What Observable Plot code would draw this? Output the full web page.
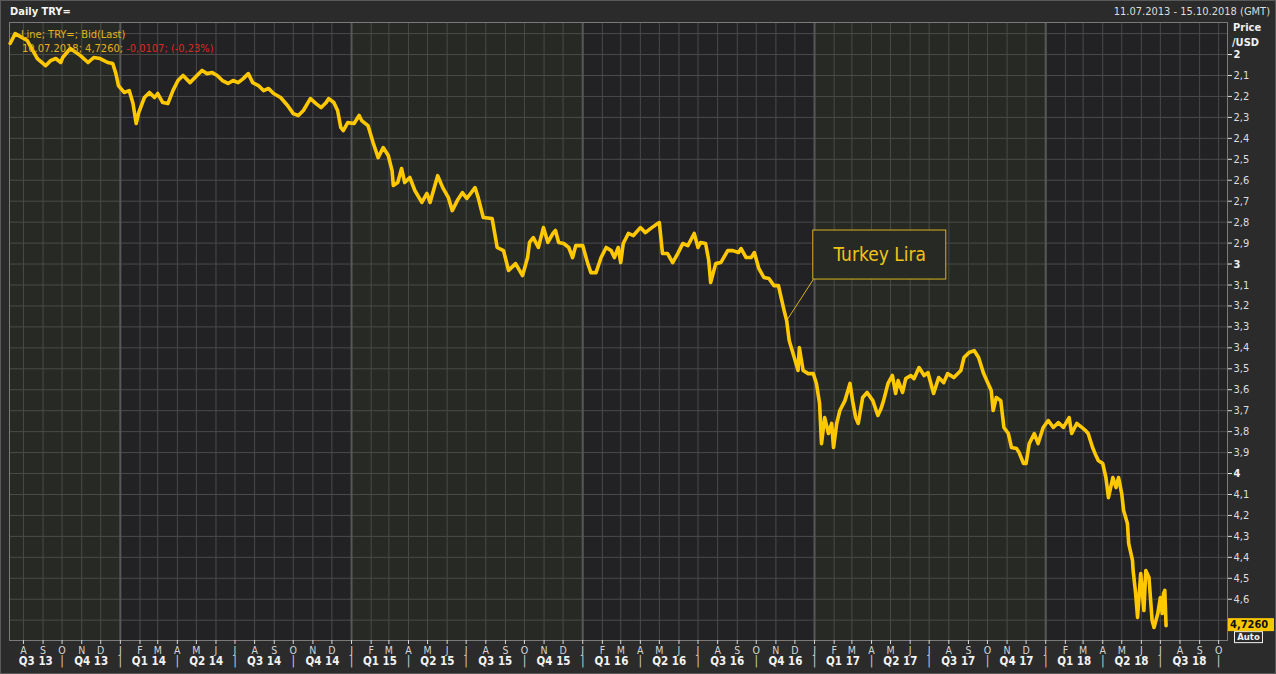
<!DOCTYPE html>
<html>
<head>
<meta charset="utf-8">
<script src="https://cdn.jsdelivr.net/npm/d3@7"></script>
<script src="https://cdn.jsdelivr.net/npm/@observablehq/plot@0.6"></script>
<style>
html,body{margin:0;padding:0;background:#2b2b2b;}
#wrap{position:relative;width:1276px;height:674px;overflow:hidden;background:#2b2b2b;font-family:"DejaVu Sans Condensed","DejaVu Sans",sans-serif;}
#wrap svg{position:absolute;left:0;top:0;}
.t{position:absolute;white-space:nowrap;font-size:11px;line-height:13px;}
.border{position:absolute;left:0;top:0;width:1276px;height:674px;box-sizing:border-box;border:1px solid #5a5a5a;pointer-events:none;}
</style>
</head>
<body>
<div id="wrap">
  <div class="t" style="left:10px;top:5px;font-weight:bold;color:#f4f4f4;">Daily TRY=</div>
  <div class="t" style="right:6px;top:5px;color:#dcdcdc;">11.07.2013 - 15.10.2018 (GMT)</div>
  <div class="t" style="left:1233px;top:21px;font-weight:bold;color:#f0f0f0;">Price</div>
  <div class="t" style="left:1232px;top:36px;font-weight:bold;color:#f0f0f0;">/USD</div>
  <div class="t" style="left:21px;top:28px;color:#e2b31c;">Line; TRY=; Bid(Last)</div>
  <div class="t" style="left:22px;top:42px;color:#e2b31c;">10.07.2018; 4,7260; <span style="color:#dc2a1e;">-0,0107; (-0,23%)</span></div>
  <div class="border"></div>
</div>
<script>
// ---- data (USD/TRY, daily bid) ----
const dates = [
  "2013-07-11","2013-07-19","2013-08-07","2013-08-23","2013-09-05","2013-09-13","2013-09-21","2013-09-29",
  "2013-10-02","2013-10-14","2013-10-30","2013-11-11","2013-11-20","2013-11-30","2013-12-12","2013-12-20",
  "2013-12-25","2013-12-29",
  "2014-01-07","2014-01-15","2014-01-21","2014-01-26","2014-01-30","2014-02-08","2014-02-16","2014-02-24",
  "2014-03-01","2014-03-09","2014-03-17","2014-03-25","2014-04-02","2014-04-10","2014-04-21","2014-05-02",
  "2014-05-10","2014-05-18","2014-05-26","2014-06-03","2014-06-11","2014-06-20","2014-06-28","2014-07-06",
  "2014-07-14","2014-07-22","2014-07-29","2014-08-07","2014-08-15","2014-08-23","2014-08-31","2014-09-11",
  "2014-09-22","2014-10-01","2014-10-09","2014-10-17","2014-10-28","2014-11-06","2014-11-14","2014-11-22",
  "2014-11-26","2014-12-04","2014-12-10","2014-12-15","2014-12-19","2014-12-26",
  "2015-01-05","2015-01-13","2015-01-17","2015-01-27","2015-02-04","2015-02-12","2015-02-20","2015-02-28",
  "2015-03-06","2015-03-08","2015-03-15","2015-03-21","2015-03-26","2015-04-03","2015-04-11","2015-04-22",
  "2015-04-30","2015-05-05","2015-05-17","2015-05-25","2015-06-03","2015-06-09","2015-06-17","2015-06-25",
  "2015-07-02","2015-07-15","2015-07-20","2015-07-28","2015-08-11","2015-08-19","2015-08-29","2015-09-06",
  "2015-09-17","2015-09-28","2015-10-06","2015-10-09","2015-10-15","2015-10-23","2015-10-31","2015-11-07",
  "2015-11-15","2015-11-19","2015-11-24","2015-12-02","2015-12-10","2015-12-16","2015-12-21",
  "2016-01-01","2016-01-09","2016-01-14","2016-01-22","2016-01-30","2016-02-07","2016-02-15","2016-02-20",
  "2016-02-26","2016-03-01","2016-03-05","2016-03-13","2016-03-21","2016-04-01","2016-04-09","2016-04-17",
  "2016-04-28","2016-05-01","2016-05-06","2016-05-14","2016-05-22","2016-05-30","2016-06-07","2016-06-15",
  "2016-06-25","2016-07-01","2016-07-05","2016-07-13","2016-07-18","2016-07-21","2016-07-29","2016-08-06",
  "2016-08-17","2016-08-25","2016-09-03","2016-09-07","2016-09-15","2016-09-23","2016-09-28","2016-10-05",
  "2016-10-13","2016-10-21","2016-10-29","2016-11-05","2016-11-14","2016-11-18","2016-11-22","2016-11-30",
  "2016-12-06","2016-12-08","2016-12-14","2016-12-22","2016-12-30",
  "2017-01-04","2017-01-09","2017-01-12","2017-01-17","2017-01-23","2017-01-28","2017-01-31","2017-02-05",
  "2017-02-10","2017-02-18","2017-02-26","2017-03-02","2017-03-07","2017-03-11","2017-03-18","2017-03-25",
  "2017-04-03","2017-04-11","2017-04-16","2017-04-20","2017-04-27","2017-05-04","2017-05-09","2017-05-13",
  "2017-05-20","2017-05-25","2017-06-02","2017-06-07","2017-06-15","2017-06-23","2017-06-29","2017-07-08",
  "2017-07-16","2017-07-24","2017-07-30","2017-08-09","2017-08-20","2017-08-25","2017-09-02","2017-09-10",
  "2017-09-17","2017-09-25","2017-10-02","2017-10-07","2017-10-10","2017-10-15","2017-10-22","2017-10-27",
  "2017-11-03","2017-11-08","2017-11-16","2017-11-20","2017-11-27","2017-12-01","2017-12-06","2017-12-14",
  "2017-12-20","2017-12-28",
  "2018-01-05","2018-01-13","2018-01-21","2018-01-29","2018-02-07","2018-02-11","2018-02-19","2018-02-27",
  "2018-03-05","2018-03-09","2018-03-16","2018-03-20","2018-03-25","2018-04-01","2018-04-06","2018-04-10",
  "2018-04-17","2018-04-22","2018-04-26","2018-05-01","2018-05-04","2018-05-10","2018-05-12","2018-05-18",
  "2018-05-19","2018-05-23","2018-05-26","2018-05-31","2018-06-05","2018-06-08","2018-06-13","2018-06-18",
  "2018-06-21","2018-06-27","2018-07-01","2018-07-04","2018-07-06","2018-07-08","2018-07-10"
];
const prices = [
  1.947,1.900,1.933,2.019,2.053,2.029,2.019,2.038,
  2.014,1.971,2.005,2.038,2.014,2.019,2.038,2.043,
  2.091,2.148,
  2.181,2.172,2.234,2.329,2.277,2.205,2.181,2.205,
  2.186,2.229,2.234,2.172,2.124,2.100,2.134,2.100,
  2.076,2.091,2.086,2.100,2.124,2.138,2.124,2.134,
  2.115,2.091,2.134,2.148,2.172,2.162,2.186,2.205,
  2.243,2.282,2.291,2.267,2.210,2.234,2.253,2.229,
  2.210,2.229,2.267,2.348,2.363,2.325,
  2.329,2.291,2.315,2.339,2.420,2.492,2.444,2.482,
  2.554,2.625,2.611,2.544,2.611,2.587,2.649,2.706,
  2.663,2.706,2.578,2.635,2.683,2.745,2.697,2.659,
  2.687,2.635,2.683,2.778,2.783,2.921,2.936,3.031,
  2.998,3.055,2.969,2.897,2.874,2.921,2.826,2.897,
  2.854,2.840,2.897,2.902,2.921,2.969,2.912,
  2.912,2.998,3.041,3.041,2.969,2.921,2.936,2.969,
  2.921,2.993,2.902,2.854,2.864,2.826,2.850,2.831,
  2.807,2.802,2.950,2.950,2.993,2.950,2.902,2.912,
  2.854,2.921,2.897,2.902,2.983,3.088,2.998,2.993,
  2.936,2.936,2.945,2.926,2.969,2.969,2.945,3.021,
  3.064,3.069,3.103,3.103,3.222,3.270,3.365,3.446,
  3.508,3.399,3.508,3.523,3.523,
  3.570,3.666,3.857,3.733,3.809,3.761,3.876,3.761,
  3.699,3.652,3.570,3.652,3.733,3.761,3.637,3.613,
  3.652,3.723,3.690,3.652,3.570,3.532,3.618,3.556,
  3.613,3.547,3.532,3.547,3.494,3.532,3.518,3.618,
  3.542,3.566,3.523,3.542,3.508,3.446,3.422,3.413,
  3.446,3.523,3.570,3.604,3.699,3.637,3.652,3.780,
  3.809,3.876,3.881,3.900,3.952,3.952,3.857,3.809,
  3.857,3.780,
  3.747,3.780,3.757,3.780,3.733,3.809,3.761,3.780,
  3.795,3.809,3.876,3.905,3.938,3.952,4.019,4.115,
  4.019,4.067,4.019,4.096,4.177,4.239,4.334,4.415,
  4.463,4.573,4.687,4.477,4.654,4.463,4.496,4.702,
  4.735,4.668,4.592,4.668,4.573,4.558,4.726
];
const lastPrice = 4.7260;
const monthLetters = ["J","F","M","A","M","J","J","A","S","O","N","D"];
const xDomain = [new Date("2013-07-10"), new Date("2018-10-15")];
const yDomain = [1.847, 4.797];
const gridValues = d3.range(19, 48).map(d => d / 10);          // 1.9 … 4.7
const labelValues = d3.range(20, 47).map(d => d / 10);         // 2.0 … 4.6
const annotation = {label: "Turkey Lira", x1: "2016-12-30", x2: "2017-07-28", y1: 2.840, y2: 3.074,
                    xm: "2017-04-14", ym: 2.957, px: "2016-11-18", py: 3.270};

// ---- derived tables ----
const data = dates.map((d, i) => ({date: new Date(d), price: prices[i]}));
const months = d3.utcMonth.range(new Date("2013-08-01"), new Date("2018-10-02"));
const yearStarts = d3.utcYear.range(new Date("2013-01-01"), new Date("2019-01-01"));
const bands = yearStarts.map((y, i) => ({
  x1: y < xDomain[0] ? xDomain[0] : y,
  x2: d3.utcYear.offset(y, 1) > xDomain[1] ? xDomain[1] : d3.utcYear.offset(y, 1),
  fill: i % 2 === 0 ? "#272a24" : "#222225"
}));
const yearLines = yearStarts.filter(y => y > xDomain[0]);
const quarterStarts = d3.utcMonth.every(3).range(new Date("2013-07-01"), new Date("2018-10-16"));
const quarters = quarterStarts.map(q => {
  const s = q < xDomain[0] ? xDomain[0] : q;
  const e0 = d3.utcMonth.offset(q, 3);
  const e = e0 > xDomain[1] ? xDomain[1] : e0;
  return {mid: new Date((+s + +e) / 2), span: (e - s) / 864e5,
          label: "Q" + (Math.floor(q.getUTCMonth() / 3) + 1) + " " + String(q.getUTCFullYear()).slice(2)};
}).filter(q => q.span > 20);
const separators = quarterStarts.filter(q => q > xDomain[0]);
const fmt = d => Number.isInteger(d) ? String(d) : d.toFixed(1).replace(".", ",");
const boldLabels = labelValues.filter(d => Number.isInteger(d));
const plainLabels = labelValues.filter(d => !Number.isInteger(d));

const gold = "#ffc800";
const chart = Plot.plot({
  width: 1276, height: 674,
  marginLeft: 9, marginRight: 49, marginTop: 22, marginBottom: 34,
  x: {type: "utc", domain: xDomain, axis: null},
  y: {domain: yDomain, reverse: true, axis: null},
  style: {background: "transparent", color: "#dcdcdc",
          fontFamily: '"DejaVu Sans Condensed","DejaVu Sans",sans-serif', fontSize: "11px"},
  marks: [
    Plot.rect(bands, {x1: "x1", x2: "x2", fill: "fill"}),
    Plot.ruleY(gridValues, {stroke: "#4a4a4a", strokeWidth: 1}),
    Plot.ruleX(months, {stroke: "#4a4a4a", strokeWidth: 1}),
    Plot.ruleX(yearLines, {stroke: "#575757", strokeWidth: 2}),
    Plot.frame({stroke: "#7a7a7a"}),
    Plot.axisY(plainLabels, {anchor: "right", tickSize: 4, tickPadding: 2, tickFormat: fmt,
      label: null, fontSize: 11, color: "#dedede"}),
    Plot.axisY(boldLabels, {anchor: "right", tickSize: 4, tickPadding: 2, tickFormat: fmt,
      label: null, fontSize: 11, fontWeight: "bold", color: "#f2f2f2"}),
    Plot.axisX(months, {anchor: "bottom", tickSize: 4, tickPadding: 2, label: null,
      tickFormat: d => monthLetters[d.getUTCMonth()], fontSize: 10.5, color: "#d6d6d6"}),
    Plot.text(quarters, {x: "mid", text: "label", frameAnchor: "bottom", dy: 24,
      fontWeight: "bold", fontSize: 11.5, fill: "#f2f2f2"}),
    Plot.text(separators, {x: d => d, text: () => "|", frameAnchor: "bottom", dy: 24,
      fontSize: 12, fill: "#cfcfcf"}),
    Plot.rect([annotation], {x1: d => new Date(d.x1), x2: d => new Date(d.x2), y1: "y1", y2: "y2",
      fill: "#272a24", stroke: "#d8b21e", strokeWidth: 1}),
    Plot.link([annotation], {x1: d => new Date(d.x1), y1: "y2", x2: d => new Date(d.px), y2: "py",
      stroke: "#d8b21e", strokeWidth: 1}),
    Plot.line(data, {x: "date", y: "price", stroke: gold, strokeWidth: 3.6,
      strokeLinejoin: "round", strokeLinecap: "round"}),
    Plot.text([annotation], {x: d => new Date(d.xm), y: "ym", text: "label",
      fontSize: 19, fill: "#f2c21a"})
  ]
});

// current-value badge on the price axis, positioned through the y scale
function fmt4(v) { return v.toFixed(4).replace(".", ","); }
const ys = chart.scale("y");
const yv = ys.apply(lastPrice);
const svg = d3.select(chart);
const xr = 1276 - 49;
const auto = svg.append("g");
auto.append("rect").attr("x", xr + 7.5).attr("y", yv + 6.5).attr("width", 28).attr("height", 11)
  .attr("fill", "#2b2b2b").attr("stroke", "#f0f0f0").attr("stroke-width", 1);
auto.append("text").attr("x", xr + 21.5).attr("y", yv + 12.5).attr("text-anchor", "middle")
  .attr("dominant-baseline", "middle").attr("font-size", 9.5).attr("font-weight", "bold")
  .attr("fill", "#f0f0f0").text("Auto");
const badge = svg.append("g");
badge.append("rect").attr("x", xr + 1).attr("y", yv - 7).attr("width", 46).attr("height", 13)
  .attr("fill", "#f7c600");
badge.append("text").attr("x", xr + 3).attr("y", yv - 0.5).attr("text-anchor", "start")
  .attr("dominant-baseline", "middle").attr("font-size", 11).attr("font-weight", "bold")
  .attr("fill", "#111").text(fmt4(lastPrice));

document.getElementById("wrap").prepend(chart);
</script>
</body>
</html>
